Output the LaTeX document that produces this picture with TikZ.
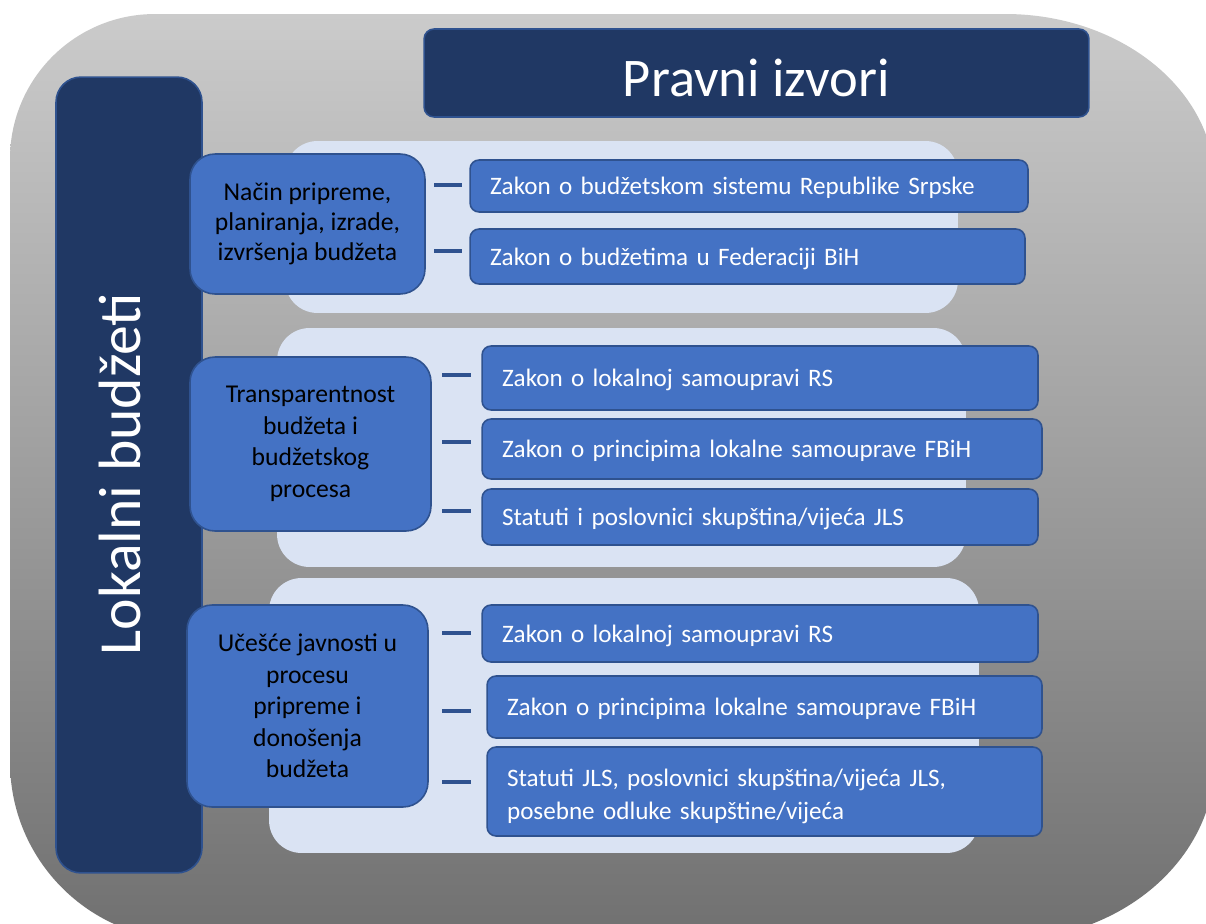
\documentclass[tikz,border=0pt]{standalone}
\usepackage{fontspec}
\setmainfont{Carlito}
\definecolor{navy}{HTML}{203864}
\definecolor{edgeblue}{HTML}{2F528F}
\definecolor{midblue}{HTML}{4472C4}
\definecolor{paleblue}{HTML}{DAE3F3}
\definecolor{bgtop}{RGB}{203,203,203}
\definecolor{bgbot}{RGB}{112,112,112}
\begin{document}
\begin{tikzpicture}[x=0.02cm,y=-0.02cm,
  panel/.style={fill=paleblue, draw=none, rounded corners=0.65cm, inner sep=0pt},
  catbox/.style={fill=midblue, draw=edgeblue, line width=0.9pt, rounded corners=0.5cm,
    inner sep=0pt, align=center, text=black, font=\fontsize{14.6}{17.9}\selectfont},
  itembox/.style={fill=midblue, draw=edgeblue, line width=0.9pt, rounded corners=0.18cm,
    inner xsep=0.4cm, inner ysep=0pt, align=left, text=white, font=\fontsize{14.3}{18.7}\selectfont},
  oneline/.style={text height=10.2pt, text depth=0pt},
  dashline/.style={draw=edgeblue, line width=2.3pt},
  headbox/.style={fill=navy, draw=edgeblue, line width=0.9pt, inner sep=0pt, text=white}
]
\useasboundingbox (0,0) rectangle (1206,923);
\fill[white] (0,0) rectangle (1206,923);
% outer background
\shade[top color=bgtop, bottom color=bgbot]
  (155,14) -- (1005,14)
  arc[start angle=90, end angle=0, x radius=4.2cm, y radius=3.4cm]
  -- (1215,760)
  arc[start angle=0, end angle=-90, x radius=4.2cm, y radius=3.6cm]
  -- (188,940)
  arc[start angle=270, end angle=180, radius=3.56cm]
  -- (10,159)
  arc[start angle=180, end angle=90, radius=2.9cm]
  -- cycle;

% title and side box
\node[headbox, rounded corners=0.2cm, minimum width=13.30cm, minimum height=1.76cm,
  text height=27.2pt, text depth=0pt,
  font=\fontsize{31}{37}\selectfont] (title) at (756.5,73) {Pravni izvori};
\node[headbox, rounded corners=0.5cm, minimum width=2.92cm, minimum height=15.92cm] (side) at (129,475) {};
\node[text=white, rotate=90, inner sep=0pt, text height=24pt, text depth=0pt,
  font=\fontsize{34}{40}\selectfont] (sidetext) at (119,474) {Lokalni budžeti};

% panels
\node[panel, minimum width=13.46cm, minimum height=3.44cm] (p1) at (621.5,227) {};
\node[panel, minimum width=13.78cm, minimum height=4.78cm] (p2) at (621.5,447.5) {};
\node[panel, minimum width=14.20cm, minimum height=5.50cm] (p3) at (624,715.5) {};

% categories
\node[catbox, minimum width=4.70cm, minimum height=2.80cm, font=\fontsize{14.6}{17}\selectfont] (c1) at (307.5,224)
  {Način pripreme,\\planiranja, izrade,\\izvršenja budžeta};
\node[catbox, minimum width=4.82cm, minimum height=3.48cm] (c2) at (310.5,444)
  {Transparentnost\\budžeta i\\budžetskog\\procesa};
\node[catbox, minimum width=4.82cm, minimum height=4.04cm] (c3) at (307.5,706)
  {Učešće javnosti u\\procesu\\pripreme i\\donošenja\\budžeta};

% items
\node[itembox, oneline, minimum width=11.16cm, text width=10.36cm, minimum height=1.04cm] (i11) at (749,186)
  {Zakon o budžetskom sistemu Republike Srpske};
\node[itembox, oneline, minimum width=11.10cm, text width=10.30cm, minimum height=1.10cm] (i12) at (747.5,256.5)
  {Zakon o budžetima u Federaciji BiH};
\node[itembox, oneline, minimum width=11.12cm, text width=10.32cm, minimum height=1.28cm] (i21) at (760,378)
  {Zakon o lokalnoj samoupravi RS};
\node[itembox, oneline, minimum width=11.20cm, text width=10.40cm, minimum height=1.20cm] (i22) at (762,449)
  {Zakon o principima lokalne samouprave FBiH};
\node[itembox, oneline, minimum width=11.12cm, text width=10.32cm, minimum height=1.12cm] (i23) at (760,517)
  {Statuti i poslovnici skupština/vijeća JLS};
\node[itembox, oneline, minimum width=11.12cm, text width=10.32cm, minimum height=1.14cm] (i31) at (760,633.5)
  {Zakon o lokalnoj samoupravi RS};
\node[itembox, oneline, minimum width=11.10cm, text width=10.30cm, minimum height=1.24cm] (i32) at (764.5,707)
  {Zakon o principima lokalne samouprave FBiH};
\node[itembox, minimum width=11.10cm, text width=10.30cm, minimum height=1.78cm] (i33) at (764.5,791.5)
  {\rule{0pt}{16pt}Statuti JLS, poslovnici skupština/vijeća JLS,\\posebne odluke skupštine/vijeća};

% dashes
\foreach \n/\xa/\xb/\yy in {11/434/462/185, 12/434/462/251,
    21/442/471/375, 22/442/471/442, 23/442/471/511,
    31/442/471/633, 32/442/471/711, 33/442/471/782}{
  \coordinate (da\n) at (\xa,\yy);
  \coordinate (db\n) at (\xb,\yy);
  \draw[dashline] (da\n) -- (db\n);
}
\end{tikzpicture}
\end{document}
